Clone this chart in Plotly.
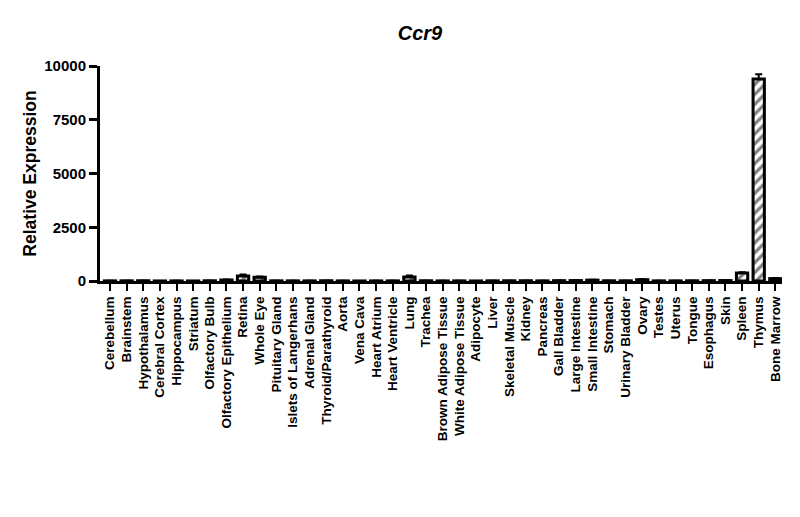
import plotly.graph_objects as go

tissues = ["Cerebellum", "Brainstem", "Hypothalamus", "Cerebral Cortex", "Hippocampus",
           "Striatum", "Olfactory Bulb", "Olfactory Epithelium", "Retina", "Whole Eye",
           "Pituitary Gland", "Islets of Langerhans", "Adrenal Gland", "Thyroid/Parathyroid",
           "Aorta", "Vena Cava", "Heart Atrium", "Heart Ventricle", "Lung", "Trachea",
           "Brown Adipose Tissue", "White Adipose Tissue", "Adipocyte", "Liver",
           "Skeletal Muscle", "Kidney", "Pancreas", "Gall Bladder", "Large Intestine",
           "Small Intestine", "Stomach", "Urinary Bladder", "Ovary", "Testes", "Uterus",
           "Tongue", "Esophagus", "Skin", "Spleen", "Thymus", "Bone Marrow"]
expression = [5, 8, 12, 3, 4, 3, 10, 45, 230, 170,
              8, 6, 5, 12, 4, 3, 4, 6, 190, 10,
              4, 5, 3, 8, 10, 12, 6, 15, 20, 40,
              10, 8, 60, 5, 6, 10, 15, 20, 370, 9400, 110]
error_up = [3, 4, 5, 2, 2, 2, 5, 20, 70, 40,
            4, 3, 3, 5, 2, 2, 2, 3, 60, 5,
            2, 3, 2, 4, 5, 5, 3, 6, 8, 15,
            5, 4, 25, 3, 3, 5, 6, 8, 40, 220, 30]
y_ticks = [0, 2500, 5000, 7500, 10000]
y_tick_text = ["0", "2500", "5000", "7500", "10000"]

FONT = "Liberation Sans, Arial, sans-serif"

fig = go.Figure(go.Bar(
    x=tissues, y=expression,
    width=0.68,
    marker=dict(color="white", line=dict(color="black", width=3),
                pattern=dict(shape="/", fgcolor="black", bgcolor="white",
                             size=7, solidity=0.45)),
    error_y=dict(type="data", array=error_up, arrayminus=[0] * len(error_up),
                 symmetric=False, color="black", thickness=2, width=3.5),
))

fig.update_layout(
    width=800, height=517,
    margin=dict(l=92, r=26, t=58, b=244),
    plot_bgcolor="white", paper_bgcolor="white",
    showlegend=False,
    title=dict(text="<b><i>Ccr9</i></b>", x=0.515, xanchor="center", y=0.952, yanchor="middle",
               font=dict(family=FONT, size=20, color="black")),
    xaxis=dict(range=[-0.6, 40.4], showline=True, linewidth=3, linecolor="black",
               ticks="outside", ticklen=7, tickwidth=2, tickcolor="black",
               tickangle=-90, showgrid=False, zeroline=False,
               tickfont=dict(family=FONT, size=13.5, color="black", weight="bold")),
    yaxis=dict(range=[0, 10000], tickvals=y_ticks, ticktext=y_tick_text, showline=True,
               linewidth=3, linecolor="black", ticks="outside", ticklen=8, tickwidth=3,
               tickcolor="black", showgrid=False, zeroline=False,
               tickfont=dict(family=FONT, size=15, color="black", weight="bold"),
               title=dict(text="Relative Expression", standoff=4,
                          font=dict(family=FONT, size=17.5, color="black", weight="bold"))),
)

fig.write_html("out.html")
